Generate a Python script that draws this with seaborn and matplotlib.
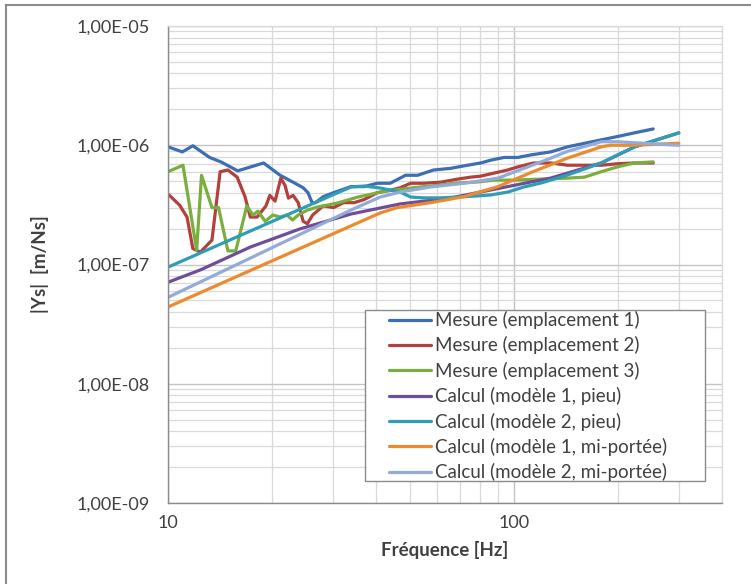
import numpy as np
import pandas as pd
import matplotlib
matplotlib.use("Agg")
import matplotlib.pyplot as plt
import seaborn as sns
from matplotlib.patches import Rectangle
from matplotlib.ticker import FixedLocator, FixedFormatter, LogLocator, NullFormatter

# ---------------- data ----------------
names = [
    "Mesure (emplacement 1)",
    "Mesure (emplacement 2)",
    "Mesure (emplacement 3)",
    "Calcul (modèle 1, pieu)",
    "Calcul (modèle 2, pieu)",
    "Calcul (modèle 1, mi-portée)",
    "Calcul (modèle 2, mi-portée)",
]
colors = ["#3C6EB4", "#B2403C", "#7AAE3E", "#6E4E96", "#2F9DB5", "#EE8A2E", "#93ABD8"]

m1_f = [10, 11, 11.8, 13.2, 14.3, 15.9, 18.9, 21.1, 23.0, 24.6, 25.4, 26.1, 26.7, 28.1, 30.1,
        33.8, 36.9, 40.3, 43.9, 46.9, 48.6, 52.7, 58.6, 65.6, 73.5, 80.2, 85.8, 93.7, 102.7,
        112, 128, 143, 179, 204, 223, 253]
m1_y = [9.7e-7, 8.8e-7, 9.9e-7, 7.9e-7, 7.2e-7, 6.1e-7, 7.1e-7, 5.6e-7, 4.9e-7, 4.4e-7, 4.0e-7,
        3.3e-7, 3.3e-7, 3.7e-7, 4.0e-7, 4.5e-7, 4.5e-7, 4.8e-7, 4.8e-7, 5.3e-7, 5.6e-7, 5.6e-7,
        6.2e-7, 6.4e-7, 6.8e-7, 7.1e-7, 7.5e-7, 7.9e-7, 7.9e-7, 8.3e-7, 8.8e-7, 9.7e-7, 1.11e-6,
        1.2e-6, 1.27e-6, 1.37e-6]

m2_f = [10, 10.8, 11.35, 11.8, 12.4, 13.4, 14.15, 14.9, 15.85, 16.7, 17.3, 18.1, 19.2, 19.7,
        20.4, 21.2, 21.8, 22.3, 23.0, 23.8, 24.6, 25.3, 26.2, 28.1, 30.1, 32.2, 34.5, 36.9,
        40.3, 43.9, 46.9, 50.3, 54.8, 61.4, 68.8, 75, 80, 96, 103, 114, 128, 143, 160, 179,
        200, 223, 253]
m2_y = [3.9e-7, 3.15e-7, 2.5e-7, 1.36e-7, 1.27e-7, 1.6e-7, 6.0e-7, 6.2e-7, 5.4e-7, 3.7e-7,
        2.5e-7, 2.5e-7, 3.1e-7, 3.8e-7, 3.4e-7, 5.3e-7, 4.6e-7, 3.6e-7, 3.8e-7, 3.3e-7, 2.3e-7,
        2.2e-7, 2.6e-7, 3.1e-7, 3.0e-7, 3.3e-7, 3.3e-7, 3.5e-7, 4.0e-7, 4.2e-7, 4.4e-7, 4.8e-7,
        4.8e-7, 4.9e-7, 5.2e-7, 5.4e-7, 5.5e-7, 6.2e-7, 6.6e-7, 7.1e-7, 7.1e-7, 6.8e-7, 6.8e-7,
        6.8e-7, 7.0e-7, 7.1e-7, 7.1e-7]

m3_f = [10, 11.05, 12.1, 12.5, 13.4, 14.0, 14.9, 15.7, 16.9, 17.6, 18.2, 19.1, 20.1, 21.1,
        22.1, 22.9, 23.8, 25.3, 27.0, 28.9, 30.9, 33.1, 35.4, 37.9, 41.1, 44.8, 53.9, 61.4,
        68.8, 78.6, 87.6, 100, 120, 143, 160, 179, 200, 223, 253]
m3_y = [6.0e-7, 6.8e-7, 1.32e-7, 5.6e-7, 3.0e-7, 3.0e-7, 1.3e-7, 1.3e-7, 3.1e-7, 2.6e-7,
        2.8e-7, 2.3e-7, 2.6e-7, 2.5e-7, 2.6e-7, 2.36e-7, 2.6e-7, 2.86e-7, 3.03e-7, 3.15e-7,
        3.28e-7, 3.47e-7, 3.68e-7, 3.83e-7, 4.05e-7, 4.21e-7, 4.47e-7, 4.64e-7, 4.83e-7,
        4.92e-7, 5.1e-7, 5.1e-7, 5.2e-7, 5.3e-7, 5.4e-7, 6.0e-7, 6.6e-7, 7.1e-7, 7.25e-7]

c1_f = [10, 12.4, 17.3, 24.1, 33.8, 46.9, 65.6, 91.6, 128, 179, 223, 300]
c1_y = [7.1e-8, 9.0e-8, 1.40e-7, 1.99e-7, 2.65e-7, 3.22e-7, 3.61e-7, 4.38e-7, 5.31e-7,
        7.1e-7, 9.67e-7, 1.27e-6]

c2_f = [10, 33.8, 36.9, 41.1, 46.9, 50.3, 54.8, 61.4, 68.8, 78.6, 85.8, 96, 107, 120, 143,
        179, 223, 300]
c2_y = [9.5e-8, 4.47e-7, 4.55e-7, 4.38e-7, 4.05e-7, 3.68e-7, 3.62e-7, 3.62e-7, 3.68e-7,
        3.76e-7, 3.83e-7, 4.05e-7, 4.47e-7, 4.83e-7, 5.63e-7, 7.1e-7, 9.67e-7, 1.27e-6]

c3_f = [10, 41, 46, 57.5, 71.6, 90, 112, 143, 179, 190, 223, 300]
c3_y = [4.4e-8, 2.7e-7, 3.0e-7, 3.3e-7, 3.7e-7, 4.5e-7, 5.9e-7, 7.8e-7, 9.7e-7, 1.0e-6,
        1.0e-6, 1.04e-6]

c4_f = [10, 33.8, 41.1, 46.9, 57.5, 72, 90, 107, 128, 143, 179, 200, 223, 300]
c4_y = [5.3e-8, 2.86e-7, 3.68e-7, 4.05e-7, 4.47e-7, 4.8e-7, 5.3e-7, 6.4e-7, 7.8e-7, 8.9e-7,
        1.07e-6, 1.07e-6, 1.05e-6, 1.0e-6]

x_ticks = [10, 100]
x_tick_labels = ["10", "100"]
y_ticks = [1e-9, 1e-8, 1e-7, 1e-6, 1e-5]
y_tick_labels = ["1,00E-09", "1,00E-08", "1,00E-07", "1,00E-06", "1,00E-05"]

series = [(names[0], m1_f, m1_y), (names[1], m2_f, m2_y), (names[2], m3_f, m3_y),
          (names[3], c1_f, c1_y), (names[4], c2_f, c2_y), (names[5], c3_f, c3_y),
          (names[6], c4_f, c4_y)]

frames = []
for nm, f, y in series:
    frames.append(pd.DataFrame({"Fréquence": f, "Ys": y, "serie": nm}))
df = pd.concat(frames, ignore_index=True)

# ---------------- figure ----------------
sns.set_theme(style="white")
plt.rcParams["font.family"] = ["Lato", "DejaVu Sans"]

W, H = 751, 584
fig = plt.figure(figsize=(W / 100, H / 100), dpi=100)
fig.patch.set_facecolor("white")
ax = fig.add_axes([168 / W, 1 - 503 / H, 554 / W, 477 / H])

sns.lineplot(data=df, x="Fréquence", y="Ys", hue="serie", hue_order=names,
             palette=colors, sort=False, estimator=None, linewidth=2.3, ax=ax,
             legend=True)

ax.set_xscale("log")
ax.set_yscale("log")
ax.set_xlim(10, 400)
ax.set_ylim(1e-9, 1e-5)

ax.xaxis.set_major_locator(FixedLocator(x_ticks))
ax.xaxis.set_major_formatter(FixedFormatter(x_tick_labels))
ax.xaxis.set_minor_locator(LogLocator(base=10, subs=np.arange(2, 10)))
ax.xaxis.set_minor_formatter(NullFormatter())
ax.yaxis.set_major_locator(FixedLocator(y_ticks))
ax.yaxis.set_major_formatter(FixedFormatter(y_tick_labels))
ax.yaxis.set_minor_locator(LogLocator(base=10, subs=np.arange(2, 10)))
ax.yaxis.set_minor_formatter(NullFormatter())

ax.grid(which="major", color="#c4c4c4", linewidth=1.0)
ax.grid(which="minor", color="#d9d9d9", linewidth=0.9)
ax.set_axisbelow(True)

for s in ["top", "right"]:
    ax.spines[s].set_color("#d9d9d9")
    ax.spines[s].set_linewidth(0.9)
for s in ["left", "bottom"]:
    ax.spines[s].set_color("#8a8a8a")
    ax.spines[s].set_linewidth(1.0)

ax.tick_params(axis="both", which="major", direction="out", length=5, width=1,
               color="#8a8a8a", labelsize=13, labelcolor="#404040")
ax.tick_params(axis="y", which="major", pad=8)
ax.tick_params(axis="x", which="major", pad=4)
ax.tick_params(which="minor", length=0)

ax.set_xlabel("Fréquence [Hz]", fontsize=13.5, fontweight="bold", color="#404040")
ax.set_ylabel("|Ys|  [m/Ns]", fontsize=13.5, fontweight="bold", color="#404040")
ax.xaxis.set_label_coords(0.5, (503 - 541) / 477)
ax.yaxis.set_label_coords((49 - 168) / 554, 0.5)

# legend: frame drawn as a box, entries placed inside it
old = ax.get_legend()
handles = old.legend_handles
labels = [t.get_text() for t in old.get_texts()]
old.remove()
for hd in handles:
    hd.set_linewidth(2.3)

ax.add_patch(Rectangle(((365 - 168) / 554, (503 - 481) / 477), 340 / 554, 171 / 477,
                       transform=ax.transAxes, facecolor="white", edgecolor="#8a8a8a",
                       linewidth=1.0, zorder=4, clip_on=False))
leg = ax.legend(handles, labels, loc="upper left",
                bbox_to_anchor=((389 - 168) / 554, (503 - 311) / 477),
                borderaxespad=0, frameon=False, fontsize=13.5, handlelength=2.25,
                handletextpad=0.2, labelspacing=0.39, borderpad=0)
leg.set_zorder(5)
for t in leg.get_texts():
    t.set_color("#404040")

fig.add_artist(Rectangle((6 / W, -0.1), 1.2, (1 - 5 / H) + 0.1, transform=fig.transFigure,
                         fill=False, edgecolor="#8c8c8c", linewidth=1.5))

fig.savefig("out.png", dpi=100)
